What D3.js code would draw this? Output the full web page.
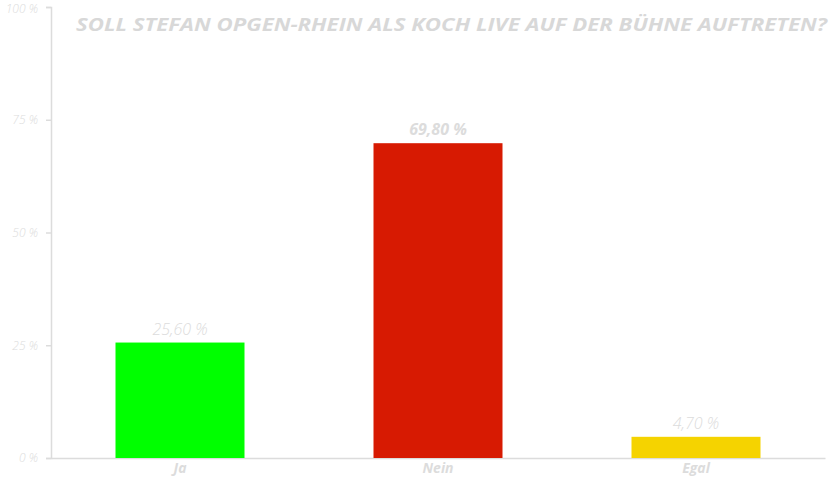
<!DOCTYPE html>
<html><head><meta charset="utf-8">
<script src="https://cdn.jsdelivr.net/npm/d3@7"></script>
<style>body{margin:0;background:#fff}svg{display:block}</style>
</head><body>
<script>
const categories = ["Ja", "Nein", "Egal"];
const values = [25.6, 69.8, 4.7];
const colors = ["#00ff00", "#d71a02", "#f5d300"];
const yTicks = [0, 25, 50, 75, 100];
const title = "SOLL STEFAN OPGEN-RHEIN ALS KOCH LIVE AUF DER BÜHNE AUFTRETEN?";

const W = 829, H = 480;
const svg = d3.select("body").append("svg").attr("width", W).attr("height", H);
const x = d3.scaleBand().domain(categories).range([51, 825]).paddingInner(0.5).paddingOuter(0.25);
const y = d3.scaleLinear().domain([0, 100]).range([458, 7]);
const grey = "#dcdcdc";
const fmt = v => v.toFixed(2).replace(".", ",") + " %";

// y axis
const ya = svg.append("g").attr("transform", "translate(51,0)")
  .call(d3.axisLeft(y).tickValues(yTicks).tickSize(5).tickPadding(8).tickFormat(d => d + " %"));
ya.select(".domain").attr("stroke", grey).attr("stroke-width", 1.5);
ya.selectAll(".tick line").attr("stroke", grey).attr("stroke-width", 1.5);
ya.selectAll(".tick text").attr("fill", grey).attr("font-family", "Open Sans").attr("font-style", "italic")
  .attr("font-weight", 300).attr("font-size", 12)
  .attr("dy", d => d === 100 ? "0.45em" : "0.32em");

// x axis
const xa = svg.append("g").attr("transform", "translate(0,458)")
  .call(d3.axisBottom(x).tickSize(0).tickPadding(0).tickSizeOuter(0));
xa.select(".domain").attr("stroke", grey).attr("stroke-width", 1.5);
xa.selectAll(".tick text").attr("fill", grey).attr("font-family", "Open Sans").attr("font-style", "italic")
  .attr("font-weight", 700).attr("font-size", 14).attr("y", 15).attr("dy", null);

// bars
svg.selectAll("rect.bar").data(categories).enter().append("rect")
  .attr("x", d => x(d)).attr("width", x.bandwidth())
  .attr("y", (d, i) => y(values[i])).attr("height", (d, i) => y(0) - y(values[i]))
  .attr("fill", (d, i) => colors[i]);

// value labels
svg.selectAll("text.val").data(categories).enter().append("text")
  .attr("x", d => x(d) + x.bandwidth() / 2).attr("y", (d, i) => y(values[i]) - 8)
  .attr("text-anchor", "middle").attr("fill", grey).attr("font-family", "Open Sans")
  .attr("font-style", "italic").attr("font-size", 16)
  .attr("font-weight", (d, i) => values[i] === d3.max(values) ? 700 : 300)
  .text((d, i) => fmt(values[i]));

// title
svg.append("text").attr("x", 76).attr("y", 31).attr("fill", "#d8d8d8")
  .attr("font-family", "Open Sans").attr("font-style", "italic").attr("font-weight", 700)
  .attr("font-size", 18).attr("textLength", 751).attr("lengthAdjust", "spacingAndGlyphs")
  .text(title);
</script>
</body></html>
